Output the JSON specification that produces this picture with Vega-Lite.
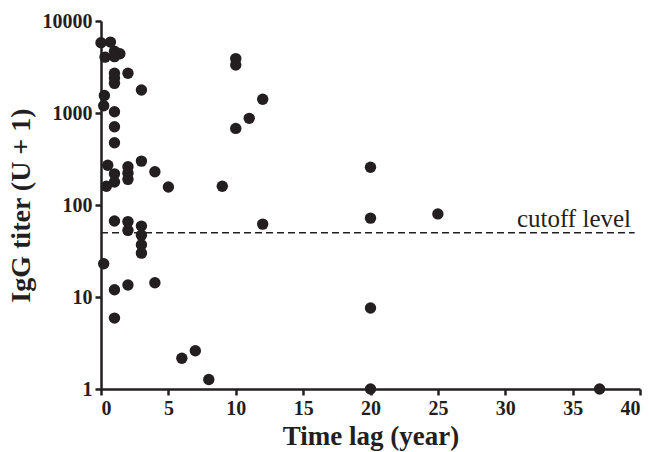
{
  "$schema": "https://vega.github.io/schema/vega-lite/v6.json",
  "autosize": {"type": "none"},
  "padding": {"left": 101, "top": 21, "right": 9, "bottom": 63},
  "width": 539,
  "height": 368,
  "background": "white",
  "config": {
    "view": {"stroke": null},
    "font": "Liberation Serif",
    "axis": {
      "grid": false,
      "domainColor": "#231f20",
      "domainWidth": 2.5,
      "tickColor": "#231f20",
      "tickWidth": 2.5,
      "tickSize": 6,
      "labelFont": "Liberation Serif",
      "labelFontWeight": "bold",
      "labelFontSize": 20,
      "labelColor": "#231f20",
      "titleFont": "Liberation Serif",
      "titleFontWeight": "bold",
      "titleColor": "#231f20"
    }
  },
  "datasets": {
    "points": [
      {"t": 0, "v": 5800}, {"t": 0.7, "v": 5900}, {"t": 1.0, "v": 4700}, {"t": 1.4, "v": 4400},
      {"t": 0.3, "v": 4050}, {"t": 1.0, "v": 4100},
      {"t": 1, "v": 2700}, {"t": 1, "v": 2400}, {"t": 1, "v": 2100}, {"t": 2, "v": 2700},
      {"t": 3, "v": 1780}, {"t": 0.25, "v": 1550}, {"t": 0.2, "v": 1200},
      {"t": 1, "v": 1030}, {"t": 1, "v": 710}, {"t": 1, "v": 475},
      {"t": 0.5, "v": 270}, {"t": 1, "v": 218}, {"t": 1, "v": 178}, {"t": 0.4, "v": 160},
      {"t": 2, "v": 260}, {"t": 2, "v": 222}, {"t": 2, "v": 190}, {"t": 3, "v": 300},
      {"t": 4, "v": 230}, {"t": 5, "v": 157},
      {"t": 1, "v": 67}, {"t": 2, "v": 66}, {"t": 2, "v": 53}, {"t": 3, "v": 59},
      {"t": 3, "v": 47}, {"t": 3, "v": 37}, {"t": 3, "v": 30}, {"t": 0.2, "v": 23},
      {"t": 1, "v": 12}, {"t": 2, "v": 13.5}, {"t": 4, "v": 14.3}, {"t": 1, "v": 5.9},
      {"t": 6, "v": 2.16}, {"t": 7, "v": 2.6}, {"t": 8, "v": 1.27},
      {"t": 9, "v": 160}, {"t": 10, "v": 3900}, {"t": 10, "v": 3330}, {"t": 10, "v": 680},
      {"t": 11, "v": 875}, {"t": 12, "v": 1410}, {"t": 12, "v": 62},
      {"t": 20, "v": 257}, {"t": 20, "v": 72}, {"t": 20, "v": 7.6}, {"t": 20, "v": 1},
      {"t": 25, "v": 80}, {"t": 37, "v": 1}
    ],
    "cutoff": [{"t": 0, "t2": 39.6, "v": 50, "label": "cutoff level", "lx": 35.1}]
  },
  "layer": [
    {
      "data": {"name": "cutoff"},
      "mark": {"type": "rule", "strokeDash": [7, 4], "strokeWidth": 1.5, "color": "#231f20"},
      "encoding": {
        "x": {"field": "t", "type": "quantitative", "scale": {"domain": [0, 40], "nice": false}},
        "x2": {"field": "t2"},
        "y": {"field": "v", "type": "quantitative", "scale": {"type": "log", "domain": [1, 10000], "nice": false}}
      }
    },
    {
      "data": {"name": "cutoff"},
      "mark": {"type": "text", "baseline": "alphabetic", "dy": -6, "fontSize": 25, "font": "Liberation Serif", "color": "#231f20"},
      "encoding": {
        "x": {"field": "lx", "type": "quantitative"},
        "y": {"field": "v", "type": "quantitative"},
        "text": {"field": "label"}
      }
    },
    {
      "data": {"name": "points"},
      "mark": {"type": "circle", "size": 130, "opacity": 1, "color": "#231f20"},
      "encoding": {
        "x": {
          "field": "t", "type": "quantitative",
          "scale": {"domain": [0, 40], "nice": false},
          "axis": {"values": [0, 5, 10, 15, 20, 25, 30, 35, 40], "title": "Time lag (year)", "titleFontSize": 27, "labelPadding": 3, "titlePadding": 5}
        },
        "y": {
          "field": "v", "type": "quantitative",
          "scale": {"type": "log", "domain": [1, 10000], "nice": false},
          "axis": {"values": [1, 10, 100, 1000, 10000], "format": "d", "title": "IgG titer (U + 1)", "titleFontSize": 28, "labelPadding": 3, "titlePadding": 7}
        }
      }
    }
  ]
}
